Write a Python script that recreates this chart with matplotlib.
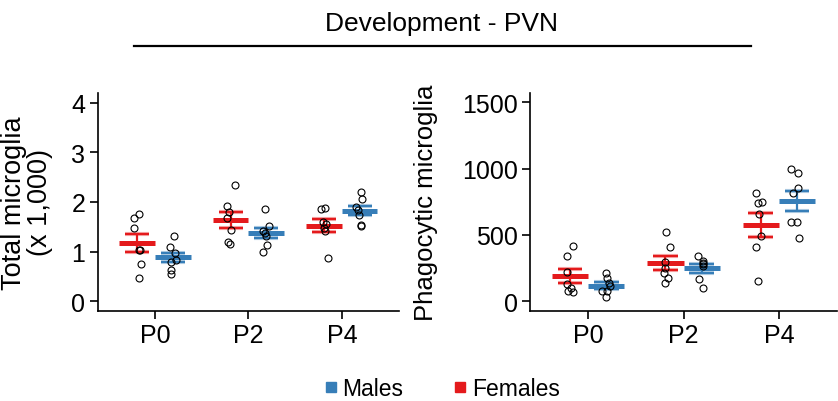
import numpy as np
import matplotlib
matplotlib.use("Agg")
import matplotlib.pyplot as plt
from matplotlib.lines import Line2D

plt.rcParams['font.family'] = ['Liberation Sans', 'DejaVu Sans']

# ages on the x axis
ages = ['P0', 'P2', 'P4']

# total microglia (x 1,000), one list per age
total_females = [
    [1.68, 1.76, 1.47, 1.04, 1.04, 0.74, 0.46],
    [1.91, 1.80, 1.68, 2.34, 1.43, 1.19, 1.16],
    [1.85, 1.87, 1.60, 1.56, 1.47, 1.42, 0.87],
]
total_males = [
    [1.31, 1.09, 0.97, 0.83, 0.79, 0.62, 0.55],
    [1.86, 1.52, 1.42, 1.37, 1.32, 1.14, 1.00],
    [2.20, 2.06, 1.90, 1.84, 1.73, 1.54, 1.51],
]

# phagocytic microglia
phago_females = [
    [413, 338, 219, 129, 101, 73, 68],
    [522, 408, 295, 252, 212, 171, 136],
    [812, 741, 751, 660, 489, 408, 154],
]
phago_males = [
    [212, 176, 134, 111, 78, 73, 30],
    [343, 300, 290, 278, 262, 164, 96],
    [998, 963, 852, 819, 595, 597, 476],
]

# horizontal scatter of the dots (styling only)
jit_total_f = [[-10, 4, -10, 4, 8, 12, 6], [-12, -4, -12, 13, 2, -7, -2], [-9, 1, -4, 6, -1, 3, 11]]
jit_total_m = [[5, -9, 6, 10, -5, -4, -4], [-5, 7, -9, -5, -2, 3, -11], [3, 6, -10, -5, -3, 3, 5]]
jit_phago_f = [[9, -8, -9, -10, 3, -6, 8], [3, 15, 0, -1, -3, 9, 0], [-14, -8, 4, -6, 2, -14, -8]]
jit_phago_m = [[0, 1, 7, 11, -12, 2, -1], [-11, 5, 5, 3, 3, -8, 3], [-18, 4, 4, -11, -18, 0, 5]]
JIT_SCALE = 1 / 283.0

RED = '#e41a1c'
BLUE = '#377eb8'
OFF = 0.19


def draw_group(ax, xc, vals, jit, color):
    vals = np.array(vals, dtype=float)
    m = vals.mean()
    sem = vals.std(ddof=1) / np.sqrt(len(vals))
    ax.hlines(m, xc - 0.19, xc + 0.19, color=color, lw=3.6, zorder=2)
    ax.vlines(xc, m - sem, m + sem, color=color, lw=1.6, zorder=2)
    for yy in (m - sem, m + sem):
        ax.hlines(yy, xc - 0.13, xc + 0.13, color=color, lw=3.0, alpha=0.35, zorder=2)
        ax.hlines(yy, xc - 0.13, xc + 0.13, color=color, lw=1.6, zorder=2)
    xs = xc + np.array(jit) * JIT_SCALE
    ax.plot(xs, vals, 'o', mfc='none', mec='black', mew=0.8, ms=5, zorder=3)


def style_axis(ax):
    for s in ('top', 'right'):
        ax.spines[s].set_visible(False)
    for s in ('left', 'bottom'):
        ax.spines[s].set_linewidth(1.2)
    ax.tick_params(width=1.2, length=6, labelsize=18, pad=3)
    ax.set_xticks(range(len(ages)))
    ax.set_xticklabels(ages)
    ax.set_xlim(-0.61, 2.61)


fig = plt.figure(figsize=(8.38, 4.02), dpi=100)
ax1 = fig.add_axes([0.1169, 0.2239, 0.3592, 0.5423])
ax2 = fig.add_axes([0.6325, 0.2239, 0.3663, 0.5423])

for i in range(len(ages)):
    draw_group(ax1, i - OFF, total_females[i], jit_total_f[i], RED)
    draw_group(ax1, i + OFF, total_males[i], jit_total_m[i], BLUE)
    draw_group(ax2, i - OFF, phago_females[i], jit_phago_f[i], RED)
    draw_group(ax2, i + OFF, phago_males[i], jit_phago_m[i], BLUE)

style_axis(ax1)
ax1.set_ylim(-0.2, 4.2)
ax1.set_yticks([0, 1, 2, 3, 4])
ax1.set_ylabel('Total microglia\n(x 1,000)', fontsize=19.5, linespacing=0.98)
ax1.yaxis.set_label_coords(-0.15, 0.5)

style_axis(ax2)
ax2.set_ylim(-75, 1570)
ax2.set_yticks([0, 500, 1000, 1500])
ax2.set_ylabel('Phagocytic microglia', fontsize=18.5)
ax2.yaxis.set_label_coords(-0.30, 0.5)

# title with rule under it
fig.text(0.527, 0.94, 'Development - PVN', ha='center', va='center', fontsize=19)
fig.add_artist(Line2D([0.160, 0.896], [0.883, 0.883], color='black', lw=1.6))

handles = [Line2D([0], [0], marker='s', color='none', mfc=BLUE, mec=BLUE, ms=7, label='Males'),
           Line2D([0], [0], marker='s', color='none', mfc=RED, mec=RED, ms=7, label='Females')]
fig.legend(handles=handles, loc='center', bbox_to_anchor=(0.527, 0.03), ncol=2, frameon=False,
           fontsize=16.5, handlelength=0.6, handletextpad=0.2, columnspacing=2.2, borderpad=0)

fig.savefig('out.png', dpi=100)
